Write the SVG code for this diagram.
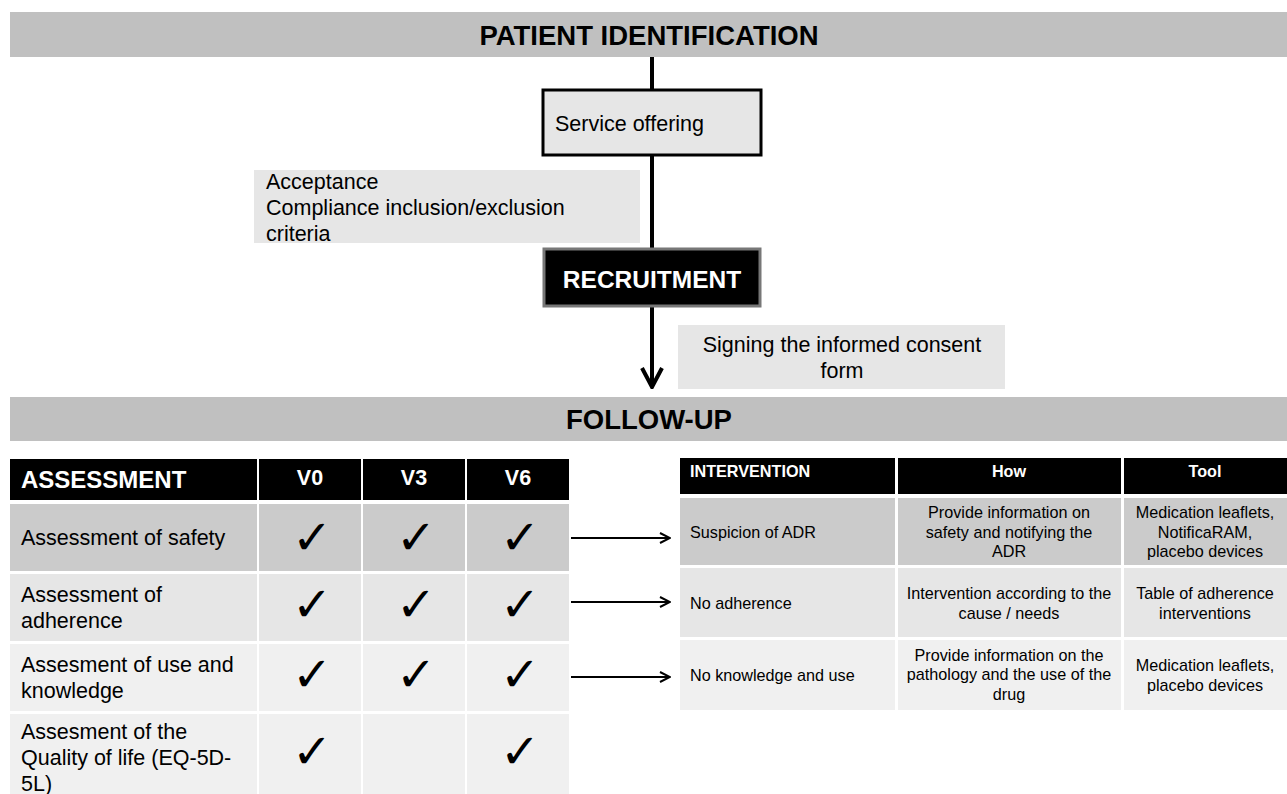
<svg xmlns="http://www.w3.org/2000/svg" width="1287" height="794" viewBox="0 0 1287 794">
<defs>
<style>
text{font-family:"Liberation Sans",Arial,sans-serif;fill:#000}
.banner{fill:#c0c0c0}
.bt{font-size:27.5px;font-weight:bold;text-anchor:middle}
.lt{fill:#e6e6e6}
.t20{font-size:21.5px}
.wb{fill:#fff;font-weight:bold}
.hd{fill:#000}
.r1{fill:#cbcbcb}
.r2{fill:#e6e6e6}
.r3{fill:#f0f0f0}
.ck{font-family:"DejaVu Sans",sans-serif;font-size:48px;font-weight:bold;text-anchor:middle}
.t15{font-size:16.2px}
.mid{text-anchor:middle}
.conn{stroke:#000;fill:none}
</style>
<marker id="openArrow" viewBox="0 0 12 12" refX="11" refY="6" markerWidth="12" markerHeight="12" markerUnits="userSpaceOnUse" orient="auto">
<path d="M1,1 L11,6 L1,11" fill="none" stroke="#000" stroke-width="2"/>
</marker>
<marker id="bigArrow" viewBox="0 0 24 24" refX="22" refY="12" markerWidth="24" markerHeight="24" markerUnits="userSpaceOnUse" orient="auto">
<path d="M3,2 L22,12 L3,22" fill="none" stroke="#000" stroke-width="4"/>
</marker>
</defs>

<g id="connectors">
<line class="conn" x1="652" y1="57" x2="652" y2="387" stroke-width="4" marker-end="url(#bigArrow)"/>
<line class="conn" x1="571" y1="538" x2="670" y2="538" stroke-width="2" marker-end="url(#openArrow)"/>
<line class="conn" x1="571" y1="602" x2="670" y2="602" stroke-width="2" marker-end="url(#openArrow)"/>
<line class="conn" x1="571" y1="677" x2="670" y2="677" stroke-width="2" marker-end="url(#openArrow)"/>
</g>

<g id="patient-identification">
<rect class="banner" x="10" y="12" width="1277" height="45"/>
<text class="bt" x="649" y="45">PATIENT IDENTIFICATION</text>
</g>

<g id="service-offering">
<rect x="543" y="90" width="218" height="65" fill="#e6e6e6" stroke="#000" stroke-width="3"/>
<text class="t20" x="555" y="131">Service offering</text>
</g>

<g id="acceptance">
<rect class="lt" x="254" y="170" width="386" height="73"/>
<text class="t20" x="266" y="189">Acceptance</text>
<text class="t20" x="266" y="215">Compliance inclusion/exclusion</text>
<text class="t20" x="266" y="241">criteria</text>
</g>

<g id="recruitment">
<rect x="544" y="249" width="216" height="57" fill="#000" stroke="#777" stroke-width="3"/>
<text class="wb mid" x="652" y="288" font-size="24.5">RECRUITMENT</text>
</g>

<g id="consent">
<rect class="lt" x="678" y="325" width="327" height="64"/>
<text class="t20 mid" x="842" y="352">Signing the informed consent</text>
<text class="t20 mid" x="842" y="378">form</text>
</g>

<g id="follow-up">
<rect class="banner" x="10" y="397" width="1277" height="44"/>
<text class="bt" x="649" y="429">FOLLOW-UP</text>
</g>

<g id="assessment-table">
<rect class="hd" x="10" y="459" width="247" height="41"/>
<rect class="hd" x="259" y="459" width="102" height="41"/>
<rect class="hd" x="363" y="459" width="102" height="41"/>
<rect class="hd" x="467" y="459" width="102" height="41"/>
<text class="wb" x="21" y="488" font-size="24">ASSESSMENT</text>
<text class="wb mid" x="310" y="485" font-size="21.5">V0</text>
<text class="wb mid" x="414" y="485" font-size="21.5">V3</text>
<text class="wb mid" x="518" y="485" font-size="21.5">V6</text>

<rect class="r1" x="10" y="504" width="247" height="67"/>
<rect class="r1" x="259" y="504" width="102" height="67"/>
<rect class="r1" x="363" y="504" width="102" height="67"/>
<rect class="r1" x="467" y="504" width="102" height="67"/>
<text class="t20" x="21" y="545">Assessment of safety</text>
<text class="ck" x="312" y="554">✓</text>
<text class="ck" x="416" y="554">✓</text>
<text class="ck" x="520" y="554">✓</text>

<rect class="r2" x="10" y="574" width="247" height="67"/>
<rect class="r2" x="259" y="574" width="102" height="67"/>
<rect class="r2" x="363" y="574" width="102" height="67"/>
<rect class="r2" x="467" y="574" width="102" height="67"/>
<text class="t20" x="21" y="602">Assessment of</text>
<text class="t20" x="21" y="628">adherence</text>
<text class="ck" x="312" y="621">✓</text>
<text class="ck" x="416" y="621">✓</text>
<text class="ck" x="520" y="621">✓</text>

<rect class="r3" x="10" y="644" width="247" height="67"/>
<rect class="r3" x="259" y="644" width="102" height="67"/>
<rect class="r3" x="363" y="644" width="102" height="67"/>
<rect class="r3" x="467" y="644" width="102" height="67"/>
<text class="t20" x="21" y="672">Assesment of use and</text>
<text class="t20" x="21" y="698">knowledge</text>
<text class="ck" x="312" y="691">✓</text>
<text class="ck" x="416" y="691">✓</text>
<text class="ck" x="520" y="691">✓</text>

<rect class="r3" x="10" y="714" width="247" height="80"/>
<rect class="r3" x="259" y="714" width="102" height="80"/>
<rect class="r3" x="363" y="714" width="102" height="80"/>
<rect class="r3" x="467" y="714" width="102" height="80"/>
<text class="t20" x="21" y="739">Assesment of the</text>
<text class="t20" x="21" y="765">Quality of life (EQ-5D-</text>
<text class="t20" x="21" y="791">5L)</text>
<text class="ck" x="312" y="768">✓</text>
<text class="ck" x="520" y="768">✓</text>
</g>

<g id="intervention-table">
<rect class="hd" x="680" y="458" width="215" height="36"/>
<rect class="hd" x="898" y="458" width="223" height="36"/>
<rect class="hd" x="1124" y="458" width="163" height="36"/>
<text class="wb t15" x="690" y="477">INTERVENTION</text>
<text class="wb t15 mid" x="1009" y="477">How</text>
<text class="wb t15 mid" x="1205" y="477">Tool</text>

<rect class="r1" x="680" y="498" width="215" height="67"/>
<rect class="r1" x="898" y="498" width="223" height="67"/>
<rect class="r1" x="1124" y="498" width="163" height="67"/>
<text class="t15" x="690" y="538">Suspicion of ADR</text>
<text class="t15 mid" x="1009" y="518">Provide information on</text>
<text class="t15 mid" x="1009" y="538">safety and notifying the</text>
<text class="t15 mid" x="1009" y="557">ADR</text>
<text class="t15 mid" x="1205" y="518">Medication leaflets,</text>
<text class="t15 mid" x="1205" y="538">NotificaRAM,</text>
<text class="t15 mid" x="1205" y="557">placebo devices</text>

<rect class="r2" x="680" y="568" width="215" height="69"/>
<rect class="r2" x="898" y="568" width="223" height="69"/>
<rect class="r2" x="1124" y="568" width="163" height="69"/>
<text class="t15" x="690" y="609">No adherence</text>
<text class="t15 mid" x="1009" y="599">Intervention according to the</text>
<text class="t15 mid" x="1009" y="619">cause / needs</text>
<text class="t15 mid" x="1205" y="599">Table of adherence</text>
<text class="t15 mid" x="1205" y="619">interventions</text>

<rect class="r3" x="680" y="640" width="215" height="70"/>
<rect class="r3" x="898" y="640" width="223" height="70"/>
<rect class="r3" x="1124" y="640" width="163" height="70"/>
<text class="t15" x="690" y="681">No knowledge and use</text>
<text class="t15 mid" x="1009" y="661">Provide information on the</text>
<text class="t15 mid" x="1009" y="680">pathology and the use of the</text>
<text class="t15 mid" x="1009" y="700">drug</text>
<text class="t15 mid" x="1205" y="671">Medication leaflets,</text>
<text class="t15 mid" x="1205" y="691">placebo devices</text>
</g>
</svg>
